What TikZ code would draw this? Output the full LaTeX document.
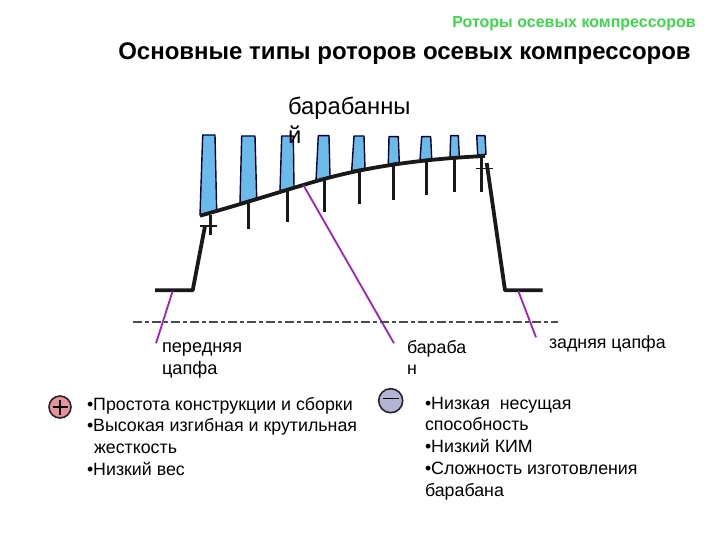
\documentclass[tikz,border=0pt]{standalone}
\usepackage{fontspec}
\setmainfont{Liberation Sans}
\definecolor{bladeblue}{HTML}{6BBBEA}
\definecolor{purp}{HTML}{A020C0}
\definecolor{headgreen}{HTML}{3CD84C}
\definecolor{plusfill}{HTML}{E8909C}
\definecolor{minusfill}{HTML}{B4B4D4}
\tikzset{
  blade/.style={draw=black!80!blue,fill=bladeblue,line width=1.4pt,line join=round},
  shaft/.style={draw=black!90,line width=3.8pt,line join=round},
  stub/.style={draw=black!90,line width=3pt},
  thin cross/.style={draw=black!90,line width=1.5pt},
  leader/.style={draw=purp,line width=1.8pt},
  axisline/.style={draw=black!70,line width=1.6pt,dash pattern=on 9pt off 3pt on 4pt off 3pt},
  label/.style={inner sep=0pt,outer sep=0pt,anchor=north west,align=left,font=\fontsize{17.8pt}{21.7pt}\selectfont},
  sign/.style={circle,draw=black!85,line width=1.6pt,minimum size=22pt,inner sep=0pt}
}
\begin{document}
\begin{tikzpicture}[x=1pt,y=-1pt]
\useasboundingbox (0,0) rectangle (720,540);
\draw[blade] (202.7,135)--(215,135)--(216.7,211.7)--(200,215)--cycle;
\draw[blade] (241.7,136)--(255,136)--(256.7,198)--(240,203)--cycle;
\draw[blade] (281.7,136)--(293.3,136)--(294,187.7)--(280,191)--cycle;
\draw[blade] (318.3,135.7)--(329,135.7)--(330,176.7)--(316,180.7)--cycle;
\draw[blade] (354,136)--(364,136)--(365,168.3)--(351.7,170.7)--cycle;
\draw[blade] (389,136.7)--(398.3,136.7)--(399.3,162.3)--(388.3,164.3)--cycle;
\draw[blade] (421.7,136.7)--(430.7,136.7)--(431.7,159)--(420,160)--cycle;
\draw[blade] (450.7,135.7)--(458.3,135.7)--(459.3,156.7)--(450,157.3)--cycle;
\draw[blade] (476.7,135.7)--(485,135.7)--(486,154.3)--(477.7,155)--cycle;
\foreach \x/\a/\b in {210/215/235, 248.3/203/229.5, 287.3/190/222, 324/180/212.5, 359/170/204.5, 393.7/163/200, 426.7/160/195.5, 454.3/157/192, 481/155/192}
  \draw[stub] (\x,\a)--(\x,\b);
\coordinate (drumL) at (200,215.7);
\coordinate (drumP) at (303.3,185);
\coordinate (drumR) at (485,156);
\draw[shaft] (drumL) .. controls (235,206) and (268,195.5) .. (drumP)
  .. controls (345,172) and (400,160) .. (drumR);
\coordinate (fl) at (155,290.3);
\coordinate (fm) at (192.7,290.3);
\coordinate (ft) at (205,226);
\coordinate (rt) at (486.7,163);
\coordinate (rm) at (505,290.3);
\coordinate (rr) at (542.7,290.3);
\draw[shaft] (fl)--(fm)--(ft);
\draw[shaft] (rt)--(rm)--(rr);
\draw[thin cross] (200,226)--(217,226);
\draw[thin cross] (476,168.5)--(492.5,168.5);
\coordinate (pl) at (172.7,291);
\coordinate (pla) at (156,343.3);
\coordinate (pm) at (394,343.3);
\coordinate (pr) at (518.3,291);
\coordinate (pra) at (536,337.3);
\draw[leader] (pl)--(pla);
\draw[leader] (drumP)--(pm);
\draw[leader] (pr)--(pra);
\coordinate (al) at (133,321.7);
\coordinate (ar) at (558,321.7);
\draw[axisline] (al)--(ar);
\node[anchor=east,inner sep=0pt,text=headgreen,font=\bfseries\fontsize{16pt}{18pt}\selectfont] (hdr) at (696,23.5) {Роторы осевых компрессоров};
\node[anchor=center,inner sep=0pt,font=\bfseries\fontsize{24pt}{28pt}\selectfont] (ttl) at (404.5,54) {Основные типы роторов осевых компрессоров};
\node[label,font=\fontsize{23.8pt}{29pt}\selectfont] (bar) at (288,97.5) {барабанны\\й};
\node[label,font=\fontsize{18.2pt}{21.7pt}\selectfont] (tf) at (162,343) {передняя\\цапфа};
\node[label] (tm) at (407,340) {бараба\\н};
\node[label] (tr) at (549,336) {задняя цапфа};
\node[sign,fill=plusfill] (plus) at (60,407) {};
\draw[line width=1.6pt] (52.5,407)--(67.5,407) (60,399.5)--(60,414.5);
\node[sign,fill=minusfill,minimum size=24pt] (minus) at (390.7,400.7) {};
\draw[line width=1.8pt] (383,398.5)--(398.5,398.5);
\node[label] (lp) at (87,397) {•Простота конструкции и сборки\\•Высокая изгибная и крутильная\\\hspace*{7pt}жесткость\\•Низкий вес};
\node[label] (lm) at (425,397) {•Низкая\ \ несущая\\способность\\•Низкий КИМ\\•Сложность изготовления\\барабана};
\end{tikzpicture}
\end{document}
